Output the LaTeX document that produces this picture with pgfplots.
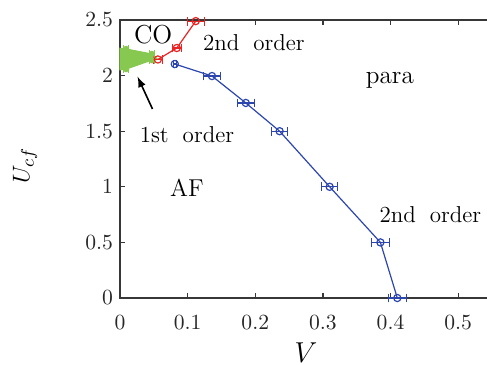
\documentclass[border=0pt]{standalone}
\usepackage{pgfplots}
\pgfplotsset{compat=1.18}
\definecolor{cblue}{RGB}{45,70,175}
\definecolor{cred}{RGB}{235,35,35}
\definecolor{cgreen}{RGB}{135,200,80}
\definecolor{caxis}{RGB}{55,55,55}
\begin{document}
\begin{tikzpicture}
\begin{axis}[
  at={(0,0)}, anchor=south west,
  scale only axis, width=186pt, height=139pt,
  xmin=0, xmax=0.55, ymin=0, ymax=2.5,
  xtick={0,0.1,0.2,0.3,0.4,0.5},
  ytick={0,0.5,1,1.5,2,2.5},
  tick align=inside, major tick length=2.5pt,
  axis line style={line width=0.6pt, caxis},
  tick style={line width=0.6pt, caxis},
  /pgf/number format/assume math mode=true,
  ticklabel style={font=\fontsize{10.8}{11}\selectfont, text=black!85},
  xticklabel style={yshift=-5pt},
  clip=false,
]
% first-order coexistence region
\addplot[fill=cgreen, draw=cgreen, line width=0.6pt] coordinates {
  (0,2.245) (0.009,2.239) (0.047,2.194) (0.056,2.145) (0.047,2.140) (0.009,2.059) (0,2.052)} -- cycle;
\addplot[cgreen, only marks, mark=*, mark size=1.3pt, line width=0.6pt,
  error bars/.cd, x dir=both, x explicit, error bar style={line width=0.6pt}, error mark options={rotate=90, mark size=1.8pt}]
  coordinates {(0.009,2.239) +- (0.004,0) (0.047,2.194) +- (0.004,0) (0.047,2.140) +- (0.004,0) (0.009,2.059) +- (0.004,0)};
% CO boundary (red)
\addplot[cred, line width=0.6pt, mark=o, mark size=1.8pt, mark options={solid, line width=0.6pt},
  error bars/.cd, x dir=both, x explicit, error bar style={line width=0.6pt}, error mark options={rotate=90, mark size=2.2pt}]
  coordinates {(0.056,2.145) +- (0.006,0) (0.084,2.248) +- (0.007,0) (0.112,2.49) +- (0.0125,0)};
% AF boundary (blue)
\addplot[cblue, line width=0.6pt, mark=o, mark size=1.8pt, mark options={solid, line width=0.6pt},
  error bars/.cd, x dir=both, x explicit, error bar style={line width=0.6pt}, error mark options={rotate=90, mark size=2.2pt}]
  coordinates {(0.081,2.104) +- (0.002,0) (0.136,1.996) +- (0.0125,0) (0.186,1.754) +- (0.012,0)
  (0.236,1.5) +- (0.012,0) (0.31,1.0) +- (0.012,0) (0.385,0.5) +- (0.013,0) (0.41,0.0) +- (0.013,0)};
% labels
\node[font=\fontsize{13}{13}\selectfont] at (axis cs:0.049,2.37) {CO};
\node[font=\fontsize{11.5}{11.5}\selectfont] at (axis cs:0.198,2.30) {2nd\hspace{7pt}order};
\node[font=\fontsize{12.6}{12.6}\selectfont] at (axis cs:0.399,1.96) {para};
\node[font=\fontsize{11.5}{11.5}\selectfont] at (axis cs:0.099,1.466) {1st\hspace{7pt}order};
\node[font=\fontsize{12.2}{12.2}\selectfont] at (axis cs:0.099,0.99) {AF};
\node[font=\fontsize{11.5}{11.5}\selectfont] at (axis cs:0.459,0.746) {2nd\hspace{7pt}order};
\draw[-latex, line width=0.8pt, black] (axis cs:0.048,1.70) -- (axis cs:0.026,1.99);
\end{axis}
\node[rotate=90, font=\fontsize{13}{13}\selectfont] at (-47.5pt,66pt) {$U_{cf}$};
\node[anchor=north, inner sep=0pt, font=\fontsize{14}{14}\selectfont] at (93pt,-22pt) {$V$};
\pgfresetboundingbox
\path[use as bounding box] (-60pt,-33pt) rectangle (183.5pt,149pt);
\end{tikzpicture}
\end{document}
